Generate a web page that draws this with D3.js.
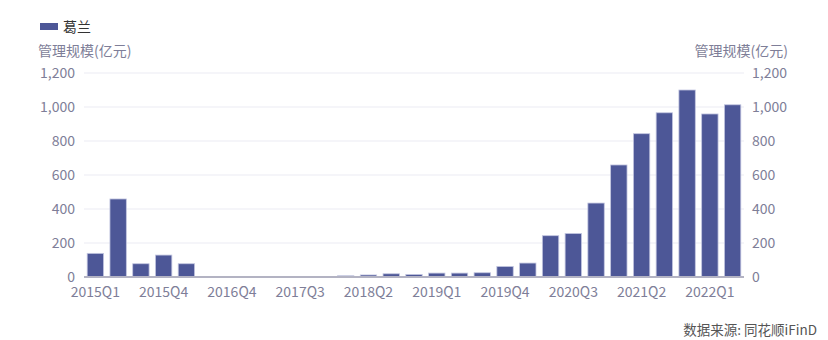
<!DOCTYPE html>
<html>
<head>
<meta charset="utf-8">
<script src="https://cdn.jsdelivr.net/npm/d3@7"></script>
<style>
  body { margin: 0; background: #fff; }
  svg { display: block; font-family: "Noto Sans CJK SC", "Noto Sans", sans-serif; }
</style>
</head>
<body>
<svg id="chart"></svg>
<script>
// quarters shown on the x axis
const quarters = [
  '2015Q1', '2015Q2', '2015Q3', '2015Q4', '2016Q2', '2016Q3', '2016Q4',
  '2017Q1', '2017Q2', '2017Q3', '2017Q4', '2018Q1', '2018Q2', '2018Q3',
  '2018Q4', '2019Q1', '2019Q2', '2019Q3', '2019Q4', '2020Q1', '2020Q2',
  '2020Q3', '2020Q4', '2021Q1', '2021Q2', '2021Q3', '2021Q4', '2022Q1', '2022Q2'
];
// 葛兰 management scale, 亿元
const scale = [
  139, 459, 78, 129, 78, 1, 1,
  1, 1, 1, 1, 7, 12, 19,
  15, 23, 23, 25, 62, 82, 243,
  256, 435, 659, 843, 966, 1100, 959, 1013
];
const yTicks = [0, 200, 400, 600, 800, 1000, 1200];
const seriesName = '葛兰';
const axisTitle = '管理规模(亿元)';
const sourceText = '数据来源: 同花顺iFinD';

const W = 828, H = 340;
const margin = { top: 73, right: 84, bottom: 63, left: 84 };
const width = W - margin.left - margin.right;
const height = H - margin.top - margin.bottom;

const svg = d3.select('#chart').attr('width', W).attr('height', H);

const x = d3.scaleBand().domain(quarters).range([0, width]).paddingInner(0.28).paddingOuter(0.14);
const y = d3.scaleLinear().domain([0, 1200]).range([height, 0]);

const g = svg.append('g').attr('transform', `translate(${margin.left},${margin.top})`);

// grid
g.append('g').attr('class', 'grid')
  .selectAll('line').data(yTicks.slice(1)).join('line')
  .attr('x1', 0).attr('x2', width)
  .attr('y1', d => y(d)).attr('y2', d => y(d))
  .attr('stroke', '#ebebf3').attr('stroke-width', 1);

// bars
g.append('g').selectAll('rect').data(scale).join('rect')
  .attr('x', (d, i) => x(quarters[i]))
  .attr('width', x.bandwidth())
  .attr('y', d => y(d))
  .attr('height', d => height - y(d))
  .attr('fill', '#4d5797')
  .attr('stroke', '#c3c6e0')
  .attr('stroke-width', 0.8);

// x axis line
g.append('line')
  .attr('x1', 0).attr('x2', width)
  .attr('y1', height).attr('y2', height)
  .attr('stroke', '#b3b3c3').attr('stroke-width', 2);

const tickColor = '#7e7e98';

// x labels every third quarter
g.append('g').selectAll('text')
  .data(quarters.filter((d, i) => i % 3 === 0)).join('text')
  .attr('x', d => x(d) + x.bandwidth() / 2)
  .attr('y', height + 20)
  .attr('text-anchor', 'middle')
  .attr('font-size', 14)
  .attr('fill', tickColor)
  .text(d => d);

// left and right y labels
const fmt = d3.format(',');
g.append('g').selectAll('text').data(yTicks).join('text')
  .attr('x', -9).attr('y', d => y(d)).attr('dy', '0.35em')
  .attr('text-anchor', 'end').attr('font-size', 14).attr('fill', tickColor)
  .text(d => fmt(d));
g.append('g').selectAll('text').data(yTicks).join('text')
  .attr('x', width + 8).attr('y', d => y(d)).attr('dy', '0.35em')
  .attr('text-anchor', 'start').attr('font-size', 14).attr('fill', tickColor)
  .text(d => fmt(d));

// axis titles
svg.append('text').attr('x', 38).attr('y', 56)
  .attr('font-size', 14).attr('fill', tickColor).text(axisTitle);
svg.append('text').attr('x', 788).attr('y', 56).attr('text-anchor', 'end')
  .attr('font-size', 14).attr('fill', tickColor).text(axisTitle);

// legend
svg.append('rect').attr('x', 40).attr('y', 23).attr('width', 18).attr('height', 7)
  .attr('fill', '#4d5797');
svg.append('text').attr('x', 63).attr('y', 31.5)
  .attr('font-size', 14).attr('fill', '#333').text(seriesName);

// source
svg.append('text').attr('x', 817).attr('y', 335).attr('text-anchor', 'end')
  .attr('font-size', 13.5).attr('fill', '#555').text(sourceText);
</script>
</body>
</html>
